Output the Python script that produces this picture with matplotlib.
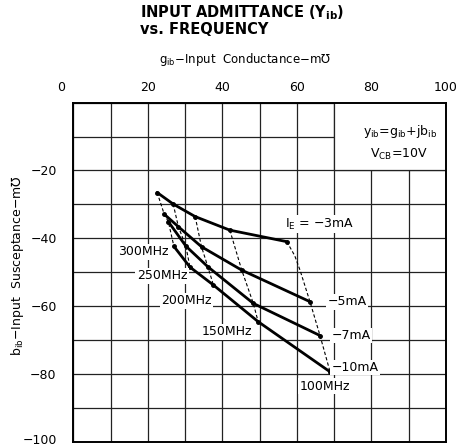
import matplotlib
matplotlib.use("Agg")
import matplotlib.pyplot as plt
from matplotlib.patches import Rectangle
from matplotlib.transforms import ScaledTranslation

plt.rcParams["mathtext.default"] = "regular"

# frequency points along each constant-current curve (300, 250, 200, 150, 100 MHz)
freqs = ["300MHz", "250MHz", "200MHz", "150MHz", "100MHz"]
currents = ["-3mA", "-5mA", "-7mA", "-10mA"]

g_3ma = [22.5, 26.8, 32.7, 42.0, 57.3]
b_3ma = [-26.5, -29.9, -33.6, -37.6, -41.0]
g_5ma = [24.4, 28.2, 34.4, 45.2, 63.5]
b_5ma = [-32.9, -36.6, -42.5, -49.4, -58.7]
g_7ma = [25.5, 30.2, 36.1, 48.3, 66.2]
b_7ma = [-35.1, -42.3, -48.4, -59.2, -68.7]
g_10ma = [27.0, 31.3, 37.6, 49.6, 68.9]
b_10ma = [-42.4, -48.5, -53.8, -64.6, -79.4]

# bend of the 100MHz line just below the -3mA end point
g_bend100 = [59.4, 60.8]
b_bend100 = [-45.1, -49.3]

x_ticks = [0, 20, 40, 60, 80, 100]
y_ticks = [-20, -40, -60, -80, -100]

fig = plt.figure(figsize=(4.57, 4.48), dpi=100)
ax = fig.add_axes([0.1604, 0.0141, 0.8155, 0.7567])
ax.set_xlim(0, 100)
ax.set_ylim(-100, 0)

# grid every 10 units
ax.set_xticks(x_ticks)
ax.set_xticks(range(0, 101, 10), minor=True)
ax.set_yticks(y_ticks)
ax.set_yticks(range(-100, 1, 10), minor=True)
ax.grid(True, which="both", color="#222222", linewidth=0.9, zorder=0)
ax.set_axisbelow(True)
ax.xaxis.tick_top()
ax.tick_params(which="both", length=0)
ax.tick_params(axis="x", pad=6, labelsize=9)
ax.tick_params(axis="y", pad=12, labelsize=9)
for s in ax.spines.values():
    s.set_linewidth(1.4)

# the "0" sits out at the corner, "-100" is nudged up to stay inside
lbl0 = ax.get_xticklabels()[0]
lbl0.set_transform(lbl0.get_transform() + ScaledTranslation(-0.12, 0, fig.dpi_scale_trans))
lbl100 = ax.get_yticklabels()[-1]
lbl100.set_transform(lbl100.get_transform() + ScaledTranslation(0, 0.03, fig.dpi_scale_trans))

# white panel holding the formula
ax.add_patch(Rectangle((70, -20), 30, 20, facecolor="white", edgecolor="none", zorder=1))
ax.plot([70, 70, 100], [0, -20, -20], color="#222222", lw=0.9, zorder=1)
ax.text(87.6, -8.6, r"y$_{ib}$=g$_{ib}$+jb$_{ib}$", ha="center", va="center", fontsize=9, zorder=2)
ax.text(87.4, -15.3, r"V$_{CB}$=10V", ha="center", va="center", fontsize=9, zorder=2)

g_all = [g_3ma, g_5ma, g_7ma, g_10ma]
b_all = [b_3ma, b_5ma, b_7ma, b_10ma]

# constant current curves
for g, b in zip(g_all, b_all):
    ax.plot(g, b, color="black", lw=2.0, solid_capstyle="round", zorder=4)
    ax.plot(g, b, "o", color="black", ms=2.5, zorder=5)

# constant frequency dashed lines
for i in range(len(freqs)):
    gs = [g[i] for g in g_all]
    bs = [b[i] for b in b_all]
    if i == 4:
        gs = gs[:1] + g_bend100 + gs[1:]
        bs = bs[:1] + b_bend100 + bs[1:]
    ax.plot(gs, bs, color="black", lw=0.8, linestyle=(0, (3, 2)), zorder=3)

box = dict(facecolor="white", edgecolor="none", pad=1.0)
# current labels
ax.text(56.8, -35.8, r"I$_E$ = $-$3mA", ha="left", va="center", fontsize=9, bbox=box, zorder=6)
ax.text(68.3, -58.7, "\u22125mA", ha="left", va="center", fontsize=9, bbox=box, zorder=6)
ax.text(69.3, -68.7, "\u22127mA", ha="left", va="center", fontsize=9, bbox=box, zorder=6)
ax.text(69.3, -78.1, "\u221210mA", ha="left", va="center", fontsize=9, bbox=box, zorder=6)

# frequency labels
ax.text(18.8, -44.0, "300MHz", ha="center", va="center", fontsize=9, bbox=box, zorder=6)
ax.text(23.8, -51.1, "250MHz", ha="center", va="center", fontsize=9, bbox=box, zorder=6)
ax.text(30.4, -58.4, "200MHz", ha="center", va="center", fontsize=9, bbox=box, zorder=6)
ax.text(41.2, -67.6, "150MHz", ha="center", va="center", fontsize=9, bbox=box, zorder=6)
ax.text(67.5, -83.6, "100MHz", ha="center", va="center", fontsize=9, bbox=box, zorder=6)

# titles
fig.text(140 / 457, 1 - 13 / 448, r"INPUT ADMITTANCE (Y$_{ib}$)", ha="left", va="center",
         fontsize=10.5, fontweight="bold")
fig.text(140 / 457, 1 - 29 / 448, "vs. FREQUENCY", ha="left", va="center",
         fontsize=10.5, fontweight="bold")
fig.text(245 / 457, 1 - 60 / 448, "g$_{ib}$\u2212Input  Conductance\u2212m\u2127",
         ha="center", va="center", fontsize=8.5)
fig.text(18 / 457, 1 - 266 / 448, "b$_{ib}$\u2212Input  Susceptance\u2212m\u2127",
         ha="center", va="center", rotation=90, fontsize=9)

fig.savefig("out.png", dpi=100)
